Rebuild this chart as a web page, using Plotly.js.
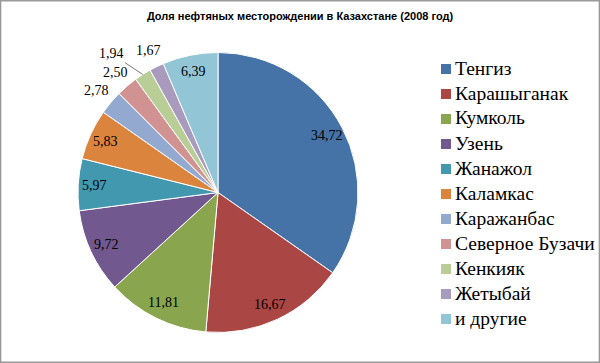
<!DOCTYPE html>
<html><head><meta charset="utf-8">
<script src="https://cdn.plot.ly/plotly-3.0.1.min.js"></script>
<style>html,body{margin:0;padding:0;background:#fff}</style>
</head><body><div id="chart" style="width:600px;height:363px"></div>
<script>
const labels = ["Тенгиз","Карашыганак","Кумколь","Узень","Жанажол","Каламкас","Каражанбас","Северное Бузачи","Кенкияк","Жетыбай","и другие"];
const values = [34.72,16.67,11.81,9.72,5.97,5.83,2.78,2.50,1.94,1.67,6.39];
const colors = ["#4572A7","#AA4643","#89A54E","#71588F","#4198AF","#DB843D","#93A9CF","#D19392","#B9CD96","#A99BBD","#92C5D5"];

const W = 600, H = 363;
const pieBox = {x0: 78, x1: 358, y0: 52, y1: 333};   // pixel box of the pie
const serif = 'Liberation Serif';

const trace = {
  type: 'pie',
  labels: labels,
  values: values,
  textinfo: 'none',
  sort: false,
  direction: 'clockwise',
  rotation: 0,
  showlegend: false,
  marker: {colors: colors, line: {color: '#ffffff', width: 1}},
  domain: {x: [pieBox.x0/W, pieBox.x1/W], y: [1-pieBox.y1/H, 1-pieBox.y0/H]},
  hoverinfo: 'label+value'
};

// data labels placed from slice angles
const total = values.reduce((a,b)=>a+b,0);
const cx = (pieBox.x0+pieBox.x1)/2, cy = (pieBox.y0+pieBox.y1)/2;
const R = Math.min(pieBox.x1-pieBox.x0, pieBox.y1-pieBox.y0)/2;
const leaderLabel = "Кенкияк";
let cum = 0;
const annotations = values.map((v,i) => {
  const mid = (cum + v/2)/total*2*Math.PI; cum += v;
  const txt = v.toFixed(2).replace('.', ',');
  const font = {family: serif, size: 14, color: '#000'};
  if (labels[i] === leaderLabel) {
    const tx = cx + R*Math.sin(mid), ty = cy - R*Math.cos(mid);
    const a2 = mid - 5*Math.PI/180;
    const lx = cx + 1.25*R*Math.sin(a2), ly = cy - 1.25*R*Math.cos(a2);
    return {x: tx/W, y: 1-ty/H, xref: 'paper', yref: 'paper', text: txt, font: font,
            showarrow: true, arrowhead: 0, arrowwidth: 0.8, arrowcolor: '#555', standoff: 0,
            ax: lx-tx, ay: ly-ty};
  }
  const f = v < 5 ? 1.13 : 0.88;
  const px = cx + f*R*Math.sin(mid), py = cy - f*R*Math.cos(mid);
  return {x: px/W, y: 1-py/H, xref: 'paper', yref: 'paper', text: txt, font: font,
          showarrow: false, xanchor: 'center', yanchor: 'middle'};
});

// legend (drawn as annotations + squares)
const leg = {x: 441, textX: 453, y0: 68, dy: 25, sq: 10};
const shapes = [{type: 'rect', xref: 'paper', yref: 'paper', x0: 0.001, x1: 0.999, y0: 0.002, y1: 0.998,
                 line: {color: '#9a9a9a', width: 1.5}}];
labels.forEach((lab, i) => {
  const yc = leg.y0 + i*leg.dy;
  shapes.push({type: 'rect', xref: 'paper', yref: 'paper',
               x0: leg.x/W, x1: (leg.x+leg.sq)/W,
               y0: 1-(yc+1+leg.sq/2)/H, y1: 1-(yc+1-leg.sq/2)/H,
               fillcolor: colors[i], line: {width: 0}});
  annotations.push({x: leg.textX/W, y: 1-yc/H, xref: 'paper', yref: 'paper', text: lab,
                    xanchor: 'left', yanchor: 'middle', showarrow: false,
                    font: {family: serif, size: 19.5, color: '#000'}});
});

const layout = {
  width: W, height: H,
  margin: {l: 0, r: 0, t: 0, b: 0},
  paper_bgcolor: '#fff',
  title: {text: '<b>Доля нефтяных месторождении в Казахстане (2008 год)</b>',
          font: {family: 'Liberation Sans', size: 11, color: '#000'},
          x: 0.5, xanchor: 'center', y: 0.955, yanchor: 'middle'},
  showlegend: false,
  annotations: annotations,
  shapes: shapes
};
Plotly.newPlot('chart', [trace], layout, {displayModeBar: false, staticPlot: true});
</script></body></html>
